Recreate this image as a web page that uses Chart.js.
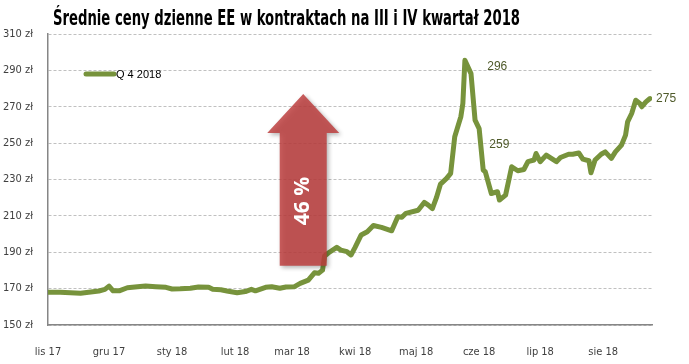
<!DOCTYPE html>
<html>
<head>
<meta charset="utf-8">
<script src="https://cdn.jsdelivr.net/npm/chart.js@4"></script>
<style>
  html, body { margin: 0; padding: 0; background: #fff; }
  #wrap { width: 689px; height: 364px; position: relative; }
</style>
</head>
<body>
<div id="wrap"><canvas id="priceChart"></canvas></div>
<script>
// days counted from 1 Nov 2017
const days = [0, 6, 16, 25, 28, 30, 32, 35, 39, 44, 48, 53, 58, 61, 65, 70, 74, 79, 81, 85, 88, 93, 97, 100, 102,
  107, 110, 114, 117, 121, 124, 128, 131, 133, 135, 136, 138, 142, 144, 147, 149, 151, 154, 157, 160, 164, 169,
  172, 174, 176, 182, 185, 187, 189, 191, 193, 196, 198, 200, 203, 204, 205, 208, 210, 212, 214, 215, 218, 221,
  222, 225, 228, 231, 234, 236, 239, 240, 242, 245, 250, 252, 256, 258, 261, 263, 266, 267, 269, 272, 274, 277,
  279, 282, 284, 285, 287, 289, 291, 292, 294, 296];
const prices = [168.0, 168.0, 167.4, 168.7, 169.6, 171.4, 168.8, 168.8, 170.5, 171.0, 171.4, 171.0, 170.7, 169.8,
  169.9, 170.2, 170.9, 170.7, 169.6, 169.4, 168.7, 167.7, 168.4, 169.6, 168.8,
  170.7, 171.0, 170.2, 170.9, 171.0, 172.9, 174.7, 178.7, 178.4, 180.2, 187.9, 189.7, 192.7, 191.2, 190.3, 188.5,
  192.7, 199.5, 201.3, 204.7, 203.7, 201.8, 209.5, 209.2, 211.4, 213.1, 217.4, 215.9, 214.0, 220.0, 227.5, 230.6,
  233.4, 253.5, 264.5, 271.8, 295.5, 288.2, 262.6, 258.0, 235.2, 234.3, 222.3, 223.3, 218.7, 221.4, 237.0, 234.8,
  235.5, 239.8, 240.7, 244.3, 239.8, 243.4, 239.8, 242.1, 243.9, 243.9, 244.6, 241.2, 240.3, 233.7, 240.7, 243.9,
  245.2, 241.6, 245.2, 248.9, 254.4, 261.7, 266.3, 273.6, 271.8, 270.0, 272.7, 274.5];

const monthStarts = [0, 30, 61, 92, 120, 151, 181, 212, 242, 273];
const monthLabels = ['lis 17', 'gru 17', 'sty 18', 'lut 18', 'mar 18', 'kwi 18', 'maj 18', 'cze 18', 'lip 18', 'sie 18'];
const yTicks = [150, 170, 190, 210, 230, 250, 270, 290, 310];

const seriesName = 'Q 4 2018';
const titleText = 'Średnie ceny dzienne EE w kontraktach na III i IV kwartał 2018';
const callouts = [
  { text: '296', day: 216, value: 292.3 },
  { text: '259', day: 217, value: 249.0 },
  { text: '275', day: 299, value: 274.3 }
];
const arrowInfo = { day: 125.5, from: 182.6, headBase: 255.5, to: 277, text: '46 %' };

const narrow = '"Liberation Sans Narrow", "DejaVu Sans Condensed", "Liberation Sans", sans-serif';
const green = '#77933C';

// title, legend, arrow and value labels
const extras = {
  id: 'extras',
  afterDatasetsDraw(chart) {
    const ctx = chart.ctx;
    const xs = chart.scales.x, ys = chart.scales.y;

    // arrow
    const cx = xs.getPixelForValue(arrowInfo.day);
    const yb = ys.getPixelForValue(arrowInfo.from);
    const yh = ys.getPixelForValue(arrowInfo.headBase);
    const yt = ys.getPixelForValue(arrowInfo.to);
    ctx.save();
    ctx.shadowColor = 'rgba(0,0,0,0.35)';
    ctx.shadowBlur = 4;
    ctx.shadowOffsetX = 2;
    ctx.shadowOffsetY = 2;
    ctx.fillStyle = 'rgba(190,62,62,0.84)';
    ctx.beginPath();
    ctx.moveTo(cx - 23.5, yb);
    ctx.lineTo(cx - 23.5, yh);
    ctx.lineTo(cx - 36, yh);
    ctx.lineTo(cx, yt);
    ctx.lineTo(cx + 36, yh);
    ctx.lineTo(cx + 23.5, yh);
    ctx.lineTo(cx + 23.5, yb);
    ctx.closePath();
    ctx.fill();
    ctx.restore();

    ctx.save();
    ctx.translate(cx, 201);
    ctx.rotate(-Math.PI / 2);
    ctx.fillStyle = '#fff';
    ctx.font = 'bold 21px "Open Sans", sans-serif';
    ctx.textAlign = 'center';
    ctx.textBaseline = 'middle';
    ctx.fillText(arrowInfo.text, 0, 0);
    ctx.restore();

    // value labels
    ctx.save();
    ctx.font = '12px "Liberation Sans", sans-serif';
    ctx.fillStyle = '#4F5A2A';
    ctx.textBaseline = 'middle';
    callouts.forEach(c => {
      ctx.fillText(c.text, xs.getPixelForValue(c.day), ys.getPixelForValue(c.value));
    });
    ctx.restore();
  },
  afterDraw(chart) {
    const ctx = chart.ctx;
    ctx.save();
    ctx.fillStyle = '#000';
    ctx.font = 'bold 21px "Liberation Sans Narrow", "DejaVu Sans Condensed", sans-serif';
    ctx.textBaseline = 'middle';
    ctx.fillText(titleText, 53, 20, 467);

    // legend
    ctx.strokeStyle = green;
    ctx.lineWidth = 5;
    ctx.lineCap = 'round';
    ctx.beginPath();
    ctx.moveTo(86, 74);
    ctx.lineTo(114, 74);
    ctx.stroke();
    ctx.font = '11px "Liberation Sans", sans-serif';
    ctx.fillStyle = '#000';
    ctx.fillText(seriesName, 116, 74.5);
    ctx.restore();
  }
};

new Chart(document.getElementById('priceChart'), {
  type: 'line',
  data: {
    datasets: [{
      label: seriesName,
      data: days.map((d, i) => ({ x: d, y: prices[i] })),
      borderColor: green,
      borderWidth: 5,
      pointRadius: 0,
      tension: 0,
      borderJoinStyle: 'round',
      borderCapStyle: 'round'
    }]
  },
  options: {
    responsive: true,
    maintainAspectRatio: false,
    animation: false,
    layout: { padding: { top: 34, right: 37, left: 0, bottom: 0 } },
    plugins: {
      legend: { display: false },
      tooltip: { enabled: false }
    },
    scales: {
      x: {
        type: 'linear',
        min: 0,
        max: 297,
        afterBuildTicks: s => { s.ticks = monthStarts.map(v => ({ value: v })); },
        afterFit: s => { s.height = 39; },
        grid: { display: false },
        border: { display: true, color: '#868686', width: 1.5 },
        ticks: {
          autoSkip: false,
          maxRotation: 0,
          padding: 13,
          color: '#404040',
          font: { family: narrow, size: 11 },
          callback: v => monthLabels[monthStarts.indexOf(v)]
        }
      },
      y: {
        min: 150,
        max: 310,
        afterBuildTicks: s => { s.ticks = yTicks.map(v => ({ value: v })); },
        afterFit: s => { s.width = 48; },
        grid: { color: '#c0c0c0', drawTicks: false },
        border: { display: true, color: '#868686', width: 1.5, dash: [3, 2] },
        ticks: {
          padding: 15,
          color: '#404040',
          font: { family: narrow, size: 11 },
          callback: v => v + ' zł'
        }
      }
    }
  },
  plugins: [extras]
});
</script>
</body>
</html>
